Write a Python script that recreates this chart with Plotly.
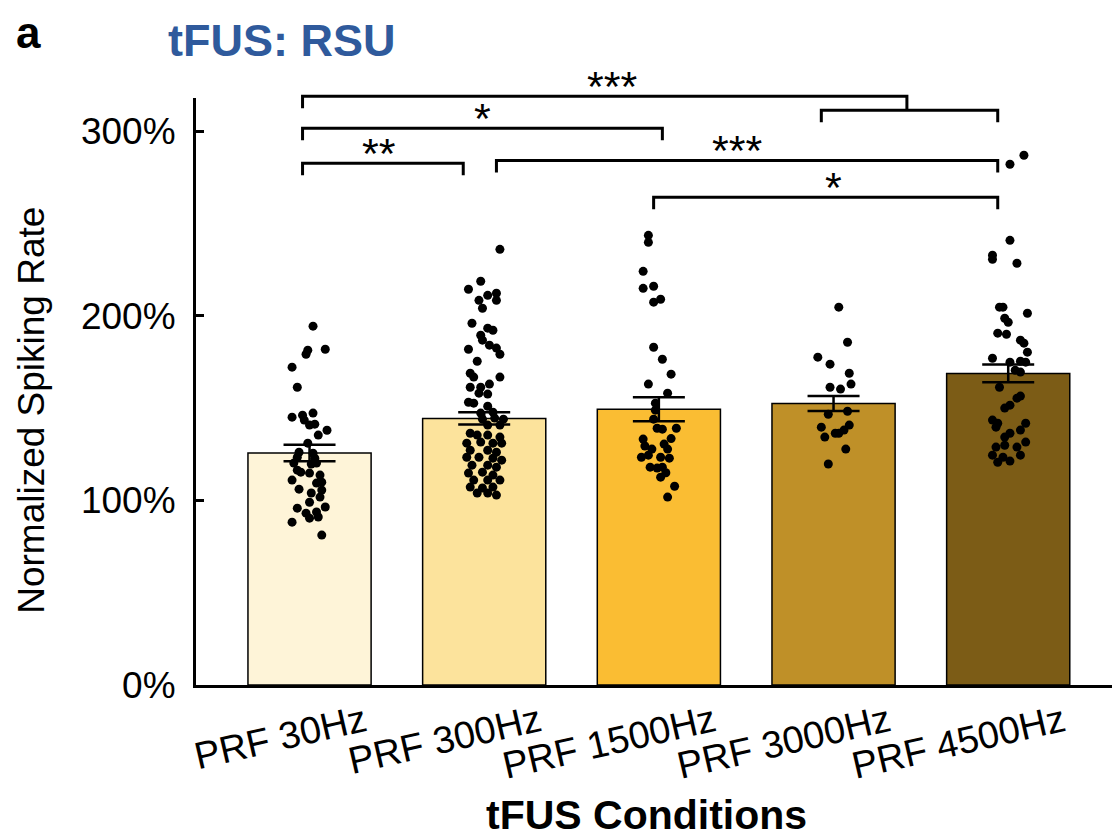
import plotly.graph_objects as go

# ---------------- data ----------------
categories = ["PRF 30Hz", "PRF 300Hz", "PRF 1500Hz", "PRF 3000Hz", "PRF 4500Hz"]
means = [125.7, 144.4, 149.4, 152.5, 168.8]
sems = [4.5, 3.3, 6.5, 4.0, 4.8]
bar_colors = ["#FEF4D8", "#FCE39C", "#FABD33", "#BF9028", "#7C5C16"]
y_tickvals = [0, 100, 200, 300]
y_ticktext = ["0%", "100%", "200%", "300%"]

# individual units: horizontal jitter (category units) and value (%)
pts30_dx = [0.02, -0.01, -0.02, 0.09, -0.10, -0.07, -0.10, -0.04, 0.02, -0.03, 0.0, 0.03, 0.10, 0.05,
            -0.01, -0.06, 0.02, -0.07, 0.03, -0.09, 0.01, 0.04, -0.07, -0.05, 0.06, 0.0, -0.10, 0.07,
            0.04, -0.06, 0.07, 0.01, 0.06, 0.0, 0.09, -0.07, 0.04, -0.02, 0.05, 0.0, -0.10, 0.07]
pts30_y = [194.4, 181.4, 179.2, 181.9, 172.2, 161.3, 145.1, 146.2, 147.3, 143.5, 140.8, 141.3, 138.0, 135.4,
           131.0, 126.1, 125.6, 123.4, 122.9, 120.2, 119.7, 120.2, 116.4, 115.3, 113.7, 114.8, 111.0, 109.9,
           109.4, 106.1, 105.6, 104.0, 101.8, 99.0, 96.4, 95.8, 93.7, 93.1, 91.0, 90.4, 88.2, 81.2]

pts300_dx = [0.09, -0.02, -0.09, 0.02, 0.07, -0.03, 0.07, -0.01, -0.07, 0.02, 0.05, -0.02, -0.01, 0.03,
             0.07, 0.09, -0.09, -0.04, -0.08, -0.06, 0.09, 0.03, -0.02, -0.08, 0.02, -0.03, -0.09, -0.06,
             0.02, -0.02, 0.05, -0.01, 0.06, 0.11, 0.02, 0.09, -0.08, -0.04, 0.02, 0.09, -0.10, -0.02,
             0.05, 0.10, -0.08, 0.02, 0.07, -0.10, -0.03, 0.05, 0.10, -0.07, 0.02, 0.07, -0.09, -0.01,
             0.05, -0.06, 0.02, 0.09, -0.08, -0.01, 0.05, -0.04, 0.02, 0.07]
pts300_y = [236.0, 218.7, 214.4, 211.1, 212.2, 208.4, 208.4, 204.1, 196.0, 193.3, 192.2, 189.5, 186.8, 184.1,
            182.5, 179.2, 181.9, 175.4, 168.9, 166.8, 166.8, 163.0, 161.3, 161.3, 157.6, 158.1, 153.2, 152.7,
            151.0, 147.3, 147.8, 144.0, 144.6, 144.0, 140.8, 140.8, 136.4, 135.4, 135.4, 134.3, 131.0, 131.6,
            131.0, 131.0, 127.2, 127.2, 126.1, 123.4, 123.4, 122.9, 121.8, 119.1, 119.1, 118.0, 114.8, 115.3,
            113.7, 111.0, 111.0, 111.0, 107.2, 106.7, 107.2, 104.0, 104.0, 102.9]

pts1500_dx = [-0.06, -0.06, -0.09, -0.09, -0.03, -0.03, 0.01, -0.03, 0.02, 0.07, -0.06, 0.05, -0.02, -0.02,
              -0.03, -0.01, 0.02, 0.10, -0.09, 0.03, -0.04, 0.05, -0.10, -0.06, 0.01, 0.06, -0.05, -0.01,
              0.02, 0.01, 0.09, 0.05, -0.08, 0.07, 0.04]
pts1500_y = [243.6, 239.8, 224.1, 214.9, 216.0, 207.4, 209.0, 183.0, 176.5, 168.4, 163.0, 158.1, 152.7, 148.9,
             144.0, 139.1, 138.6, 139.1, 133.2, 130.5, 127.8, 127.8, 123.4, 124.5, 123.4, 122.9, 118.0, 117.5,
             118.0, 112.6, 107.7, 101.8, 129.5, 133.5, 115.0]

pts3000_dx = [0.03, 0.08, -0.09, -0.02, 0.09, 0.10, -0.02, 0.04, 0.08, -0.03, -0.07, 0.09, 0.06, -0.05,
              0.01, 0.03, 0.07, -0.03]
pts3000_y = [204.7, 185.7, 177.6, 173.8, 168.9, 163.0, 161.3, 160.3, 148.3, 146.7, 139.7, 140.8, 138.1, 134.3,
             136.4, 136.4, 127.8, 119.7]

pts4500_dx = [0.09, 0.01, 0.01, -0.09, -0.09, 0.05, -0.05, -0.03, 0.11, -0.02, 0.0, -0.06, -0.01, 0.07,
              0.09, 0.11, -0.09, 0.01, 0.07, 0.10, 0.04, 0.07, -0.05, 0.07, 0.05, 0.01, -0.02, -0.09,
              -0.06, -0.07, 0.10, 0.07, 0.01, -0.02, 0.10, -0.07, -0.02, 0.05, -0.09, -0.03, 0.07, -0.06, 0.01]
pts4500_y = [287.0, 282.1, 240.9, 232.8, 230.6, 228.5, 204.7, 204.7, 201.4, 198.7, 196.5, 190.6, 190.0, 186.8,
             185.2, 180.3, 177.0, 174.9, 175.4, 174.9, 170.5, 169.5, 161.3, 156.5, 155.4, 151.6, 150.0, 143.5,
             141.8, 139.7, 141.8, 138.1, 136.4, 134.3, 131.6, 128.9, 129.9, 128.9, 124.5, 123.4, 124.5, 120.7, 121.3]

points_dx = [pts30_dx, pts300_dx, pts1500_dx, pts3000_dx, pts4500_dx]
points_y = [pts30_y, pts300_y, pts1500_y, pts3000_y, pts4500_y]

# significance brackets: (left end, right end [category units], level %, label, label x)
brackets = [
    (-0.04, 2.02, 301.6, "*", 0.99),
    (-0.04, 0.88, 282.6, "**", 0.40),
    (1.07, 3.94, 284.2, "***", 2.45),
    (1.97, 3.94, 264.2, "*", 3.0),
]
group_bracket = {"left": -0.04, "mid": 3.42, "group_left": 2.93, "group_right": 3.94,
                 "level": 318.9, "group_level": 311.3, "label": "***", "label_x": 1.73}

# ---------------- layout constants ----------------
XMIN, XMAX = -0.65, 4.64
YMAX = 318.0
FONT = "Liberation Sans, Arial, sans-serif"
STAR_SIZE = 43

fig = go.Figure()

fig.add_trace(go.Bar(
    x=list(range(len(categories))), y=means, width=0.705,
    marker=dict(color=bar_colors, line=dict(color="black", width=1.5)),
    showlegend=False, hoverinfo="skip"))

for i in range(len(categories)):
    fig.add_trace(go.Scatter(
        x=[i + d for d in points_dx[i]], y=points_y[i], mode="markers",
        marker=dict(color="black", size=9), showlegend=False, cliponaxis=False))

fig.add_trace(go.Scatter(
    x=list(range(len(categories))), y=means, mode="markers",
    marker=dict(size=1, color="rgba(0,0,0,0)"),
    error_y=dict(type="data", array=sems, color="black", thickness=2.5, width=26),
    showlegend=False))


def xp(x):
    return (x - XMIN) / (XMAX - XMIN)


def yp(y):
    return y / YMAX


TICK = 6.5
LW = 3
shapes = []


def star(xc, lvl, lab):
    fig.add_annotation(x=xp(xc), y=yp(lvl), xref="paper", yref="paper", text=lab, showarrow=False,
                       xanchor="center", yanchor="bottom", yshift=-16,
                       font=dict(family=FONT, size=STAR_SIZE, color="black"))


for (a, b, lvl, lab, lx) in brackets:
    path = f"M {xp(a)},{yp(lvl - TICK)} L {xp(a)},{yp(lvl)} L {xp(b)},{yp(lvl)} L {xp(b)},{yp(lvl - TICK)}"
    shapes.append(dict(type="path", xref="paper", yref="paper", path=path,
                       line=dict(color="black", width=LW)))
    star(lx, lvl, lab)

g = group_bracket
path = (f"M {xp(g['left'])},{yp(g['level'] - TICK)} L {xp(g['left'])},{yp(g['level'])} "
        f"L {xp(g['mid'])},{yp(g['level'])} L {xp(g['mid'])},{yp(g['group_level'])}")
shapes.append(dict(type="path", xref="paper", yref="paper", path=path, line=dict(color="black", width=LW)))
path = (f"M {xp(g['group_left'])},{yp(g['group_level'] - TICK)} L {xp(g['group_left'])},{yp(g['group_level'])} "
        f"L {xp(g['group_right'])},{yp(g['group_level'])} L {xp(g['group_right'])},{yp(g['group_level'] - TICK)}")
shapes.append(dict(type="path", xref="paper", yref="paper", path=path, line=dict(color="black", width=LW)))
star(g["label_x"], g["level"], g["label"])

# panel letter, title, axis titles
fig.add_annotation(x=-0.181, y=1.112, xref="paper", yref="paper", text="<b>a</b>", showarrow=False,
                   xanchor="center", yanchor="middle",
                   font=dict(family=FONT, size=44, color="black"))
fig.add_annotation(x=0.092, y=1.098, xref="paper", yref="paper", text="<b>tFUS: RSU</b>", showarrow=False,
                   xanchor="center", yanchor="middle",
                   font=dict(family=FONT, size=45, color="#2F5A9C"))
fig.add_annotation(x=0.488, y=-0.221, xref="paper", yref="paper", text="<b>tFUS Conditions</b>",
                   xanchor="center", yanchor="middle",
                   showarrow=False, font=dict(family=FONT, size=41, color="black"))
fig.add_annotation(x=-0.178, y=0.468, xref="paper", yref="paper", text="Normalized Spiking Rate",
                   xanchor="center", yanchor="middle",
                   textangle=-90, showarrow=False, font=dict(family=FONT, size=37, color="black"))

fig.update_layout(
    width=1112, height=832,
    margin=dict(l=188, r=0, t=90, b=155, pad=0),
    plot_bgcolor="white", paper_bgcolor="white",
    shapes=shapes,
    xaxis=dict(range=[XMIN, XMAX], tickvals=list(range(len(categories))), ticktext=categories,
               tickangle=-13, showline=True, linewidth=3, linecolor="black", ticks="",
               showgrid=False, zeroline=False, ticklabelshift=55, ticklabelstandoff=-3,
               tickfont=dict(family=FONT, size=38, color="black")),
    yaxis=dict(range=[0, YMAX], tickvals=y_tickvals, ticktext=y_ticktext,
               ticks="inside", ticklen=8, tickwidth=3, tickcolor="black",
               showline=True, linewidth=3, linecolor="black", showgrid=False, zeroline=False,
               ticklabelstandoff=10, tickfont=dict(family=FONT, size=37, color="black")),
)

fig.write_html("out.html")
